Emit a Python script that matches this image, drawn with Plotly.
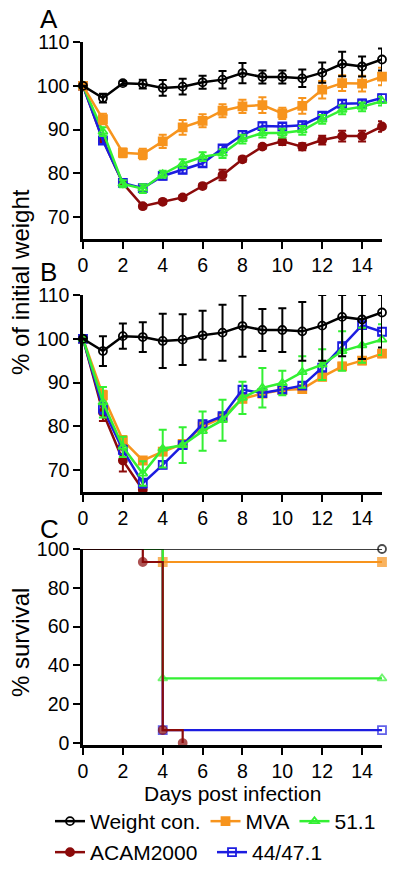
import plotly.graph_objects as go

days = list(range(16))
names = ["Weight con.", "MVA", "51.1", "ACAM2000", "44/47.1"]
colors = {"Weight con.": "#000000", "MVA": "#F7941D", "51.1": "#33F033",
          "ACAM2000": "#8B0A0A", "44/47.1": "#1C1CE0"}

# Panel A: mean % of initial weight and SEM
wc_a = [100, 97.2, 100.6, 100.4, 99.5, 99.8, 100.8, 101.4, 102.9, 102.0, 102.0, 101.7, 103.0, 105.0, 104.4, 106.0]
wc_a_err = [0, 1.0, 0.5, 1.0, 1.8, 1.8, 1.5, 2.0, 2.3, 1.5, 1.5, 2.0, 2.3, 2.8, 2.3, 2.5]
mva_a = [100, 92.4, 84.7, 84.4, 87.3, 90.5, 92.0, 94.3, 95.3, 95.6, 93.7, 95.4, 99.1, 100.6, 100.5, 102.1]
mva_a_err = [0, 1.2, 1.0, 1.2, 1.5, 1.7, 1.5, 1.5, 1.5, 1.8, 1.3, 1.8, 2.0, 1.8, 1.8, 2.0]
g51_a = [100, 89.5, 77.6, 76.5, 79.8, 82.2, 83.8, 84.5, 87.8, 89.2, 89.2, 89.8, 92.3, 94.5, 95.2, 96.5]
g51_a_err = [0, 1.0, 0.8, 1.0, 0.8, 1.0, 1.0, 1.0, 1.0, 1.0, 1.0, 1.0, 1.0, 1.0, 1.0, 1.0]
b44_a = [100, 87.5, 77.8, 76.6, 79.4, 80.8, 82.3, 85.7, 88.8, 90.8, 90.7, 91.0, 93.2, 95.9, 96.0, 97.2]
b44_a_err = [0, 0.8, 0.8, 0.8, 0.8, 0.8, 0.8, 0.8, 0.8, 0.8, 0.8, 0.8, 0.8, 0.8, 0.8, 0.8]
acam_a = [100, 87.6, 77.7, 72.5, 73.5, 74.5, 77.1, 79.6, 83.2, 86.1, 87.3, 86.1, 87.6, 88.5, 88.5, 90.7]
acam_a_err = [0, 0.5, 0.5, 0.5, 0.5, 0.5, 0.5, 1.2, 0.6, 0.5, 0.8, 0.8, 1.0, 1.2, 1.2, 1.2]

# Panel B
wc_b = wc_a
wc_b_up = [0, 3.4, 2.9, 3.4, 6.2, 5.8, 5.6, 6.4, 7.0, 4.8, 5.0, 6.7, 7.0, 5.0, 5.6, 4.0]
wc_b_dn = [0, 3.4, 2.9, 3.4, 6.2, 5.8, 5.6, 6.4, 7.0, 4.8, 5.0, 6.7, 8.0, 9.0, 9.0, 8.0]
mva_b = [100, 87.1, 76.8, 72.2, 74.2, 76.0, 80.0, 82.0, 86.3, 87.5, 88.3, 88.5, 91.3, 93.7, 95.0, 96.6]
mva_b_err = [0, 1.0, 1.0, 0.8, 0.8, 0.8, 0.8, 0.8, 0.8, 0.8, 0.8, 0.8, 0.8, 0.8, 0.8, 0.8]
g51_b = [100, 85.5, 75.3, 69.2, 74.9, 75.7, 78.9, 81.4, 86.5, 88.8, 89.9, 92.4, 94.1, 97.2, 98.5, 99.8]
g51_b_err = [0, 3.5, 2.3, 2.8, 4.3, 4.1, 4.5, 4.7, 3.7, 4.5, 2.8, 3.6, 3.5, 4.5, 4.0, 3.5]
b44_b = [100, 84.1, 74.6, 67.0, 71.2, 75.7, 80.5, 82.3, 88.4, 87.6, 88.4, 89.3, 93.4, 98.3, 103.1, 101.6]
b44_b_err = [0, 1.2, 1.0, 1.0, 0.8, 0.8, 0.8, 0.8, 0.8, 0.8, 0.8, 0.8, 0.8, 0.8, 0.8, 0.8]
acam_b_days = [0, 1, 2, 3]
acam_b = [100, 83.2, 72.2, 65.5]
acam_b_err = [0, 2.0, 2.5, 0.5]

# Panel C: survival (%)
wc_c_x, wc_c_y = [0, 15], [100, 100]
mva_c_x, mva_c_y = [0, 4, 15], [100, 93.3, 93.3]
g51_c_x, g51_c_y = [0, 4, 15], [100, 33.3, 33.3]
b44_c_x, b44_c_y = [0, 4, 15], [100, 6.7, 6.7]
acam_c_x, acam_c_y = [0, 3, 4, 5], [100, 93.3, 6.7, 0]

symbols = {"Weight con.": "circle-open", "MVA": "square", "51.1": "triangle-up-open",
           "ACAM2000": "circle", "44/47.1": "square-open"}
rank = {n: i for i, n in enumerate(names)}
legend_of = {"Weight con.": "legend", "MVA": "legend", "51.1": "legend",
             "ACAM2000": "legend2", "44/47.1": "legend2"}

fig = go.Figure()

def add_ab(name, x, y, up, dn, xa, ya, show):
    fig.add_trace(go.Scatter(
        x=x, y=y, mode="lines+markers", name=name,
        line=dict(color=colors[name], width=2.5),
        marker=dict(symbol=symbols[name], size=8, color=colors[name],
                    line=dict(color=colors[name], width=1.8)),
        error_y=dict(type="data", array=up, arrayminus=dn, symmetric=False,
                     color=colors[name], thickness=2, width=4),
        xaxis=xa, yaxis=ya, cliponaxis=False, showlegend=show,
        legend=legend_of[name], legendrank=rank[name]))

# Panel A (draw order: ACAM, 44/47.1, 51.1, MVA, Weight con.)
add_ab("ACAM2000", days, acam_a, acam_a_err, acam_a_err, "x", "y", True)
add_ab("44/47.1", days, b44_a, b44_a_err, b44_a_err, "x", "y", True)
add_ab("51.1", days, g51_a, g51_a_err, g51_a_err, "x", "y", True)
add_ab("MVA", days, mva_a, mva_a_err, mva_a_err, "x", "y", True)
add_ab("Weight con.", days, wc_a, wc_a_err, wc_a_err, "x", "y", True)

# Panel B
add_ab("MVA", days, mva_b, mva_b_err, mva_b_err, "x2", "y2", False)
add_ab("ACAM2000", acam_b_days, acam_b, acam_b_err, acam_b_err, "x2", "y2", False)
add_ab("44/47.1", days, b44_b, b44_b_err, b44_b_err, "x2", "y2", False)
add_ab("51.1", days, g51_b, g51_b_err, g51_b_err, "x2", "y2", False)
add_ab("Weight con.", days, wc_b, wc_b_up, wc_b_dn, "x2", "y2", False)

# Panel C
def add_c(name, x, y, lw):
    sizes = [0] + [8] * (len(x) - 1)
    fig.add_trace(go.Scatter(
        x=x, y=y, mode="lines+markers", name=name, line_shape="hv",
        line=dict(color=colors[name], width=lw),
        marker=dict(symbol=symbols[name], size=sizes, color=colors[name],
                    line=dict(color=colors[name], width=1.8)),
        xaxis="x3", yaxis="y3", cliponaxis=False, showlegend=False))

add_c("44/47.1", b44_c_x, b44_c_y, 2.2)
add_c("MVA", mva_c_x, mva_c_y, 2.2)
add_c("51.1", g51_c_x, g51_c_y, 2.2)
add_c("ACAM2000", acam_c_x, acam_c_y, 2.2)
add_c("Weight con.", wc_c_x, wc_c_y, 1.6)

# page offset (body margin) compensation
OFF = 8
W, H = 400.0, 869.0
def PX(p):
    return (p - OFF) / W
def PY(p):
    return 1 - (p - OFF) / H
def yd(top_px, bot_px):
    return [PY(bot_px), PY(top_px)]

xdom = [PX(83), PX(382)]
font = "Liberation Sans, Arial, sans-serif"
axis_common = dict(showline=True, linecolor="black", linewidth=2.5, ticks="outside",
                   ticklen=7, tickwidth=2.2, tickcolor="black", showgrid=False,
                   zeroline=False, automargin=False,
                   tickfont=dict(size=19.5, color="black", family=font))
xcommon = dict(axis_common, range=[0, 15], tickvals=[0, 2, 4, 6, 8, 10, 12, 14], domain=xdom)

legend_common = dict(orientation="h", xanchor="left", yanchor="top",
                     font=dict(size=21, color="black", family=font),
                     bgcolor="rgba(0,0,0,0)", traceorder="normal")

fig.update_layout(
    width=400, height=869, plot_bgcolor="white", paper_bgcolor="white",
    margin=dict(l=0, r=0, t=0, b=0, autoexpand=False), font=dict(family=font, color="black"),
    xaxis=dict(xcommon, anchor="y"),
    yaxis=dict(axis_common, range=[65, 110], tickvals=[70, 80, 90, 100, 110],
               domain=yd(42, 239), anchor="x"),
    xaxis2=dict(xcommon, anchor="y2"),
    yaxis2=dict(axis_common, range=[65, 110], tickvals=[70, 80, 90, 100, 110],
                domain=yd(295, 492), anchor="x2"),
    xaxis3=dict(xcommon, anchor="y3"),
    yaxis3=dict(axis_common, range=[-1, 100], tickvals=[0, 20, 40, 60, 80, 100],
                domain=yd(549, 745), anchor="x3"),
    legend=dict(legend_common, x=PX(50), y=PY(801)),
    legend2=dict(legend_common, x=PX(50), y=PY(832), entrywidth=117),
    showlegend=True,
)

ann = [
    dict(text="A", x=PX(38), y=PY(19), size=26, angle=0),
    dict(text="B", x=PX(38), y=PY(272), size=26, angle=0),
    dict(text="C", x=PX(38), y=PY(529), size=26, angle=0),
    dict(text="% of initial weight", x=PX(21), y=PY(282), size=24, angle=-90),
    dict(text="% survival", x=PX(20), y=PY(643), size=24, angle=-90),
]
for a in ann:
    fig.add_annotation(text=a["text"], x=a["x"], y=a["y"], xref="paper", yref="paper",
                       xanchor="left" if a["angle"] == 0 else "center", yanchor="middle",
                       showarrow=False, textangle=a["angle"],
                       font=dict(size=a["size"], color="black", family=font))
fig.add_annotation(text="Days post infection", x=PX(232), y=PY(793), xref="paper",
                   yref="paper", xanchor="center", yanchor="middle", showarrow=False,
                   font=dict(size=21, color="black", family=font))

fig.write_html("out.html")
